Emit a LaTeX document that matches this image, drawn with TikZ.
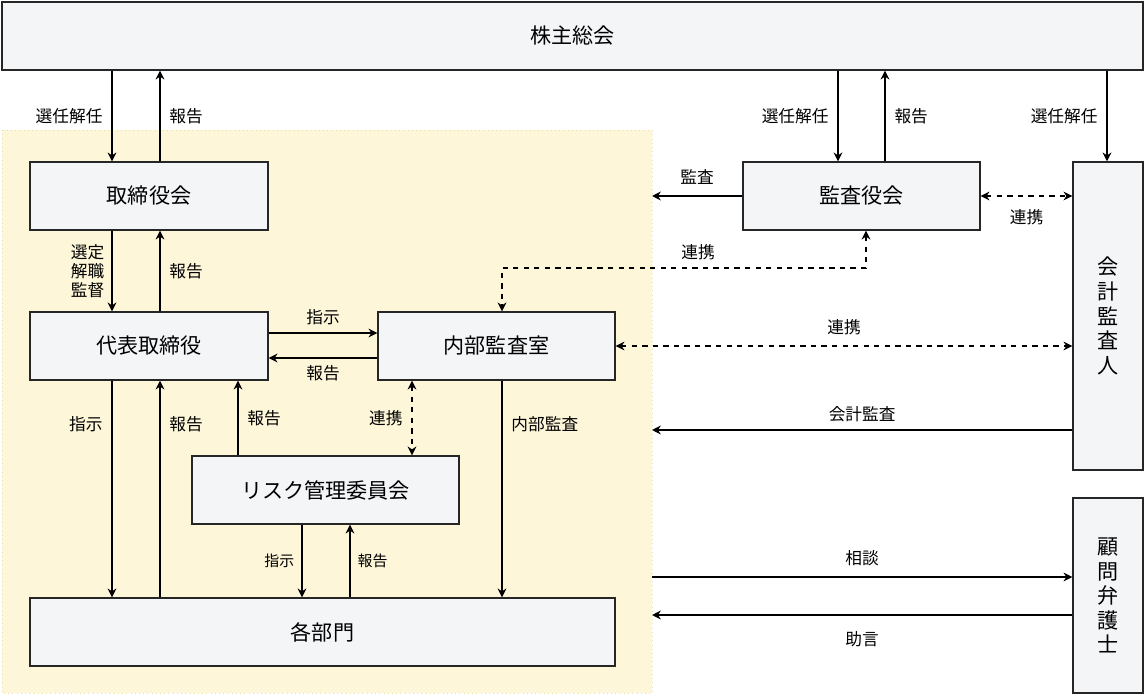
\documentclass[tikz,border=0pt]{standalone}
\usepackage{fontspec}
\setmainfont{Noto Sans CJK JP}
\usetikzlibrary{arrows.meta}
\definecolor{boxfill}{RGB}{244,245,247}
\definecolor{bgyellow}{RGB}{253,246,216}
\definecolor{bgline}{RGB}{236,222,170}
\tikzset{
  box/.style={draw=black!85,fill=boxfill,line width=0.8pt,font=\fontsize{12}{14}\selectfont},
  lbl/.style={font=\fontsize{9.5}{11}\selectfont,inner sep=1pt},
  arr/.style={-{Stealth[length=5pt,width=5pt]},line width=0.8pt},
  dual/.style={{Stealth[length=5pt,width=5pt]}-{Stealth[length=5pt,width=5pt]},dashed,line width=0.8pt}
}
\begin{document}
\begin{tikzpicture}[x=0.02cm,y=-0.02cm]
  \useasboundingbox (0,0) rectangle (1145,695);
  % background
  \filldraw[fill=bgyellow,draw=bgline,dotted] (2,130) rectangle (652,693);

  % boxes
  \node[box,minimum width=1141*0.02cm,minimum height=68*0.02cm] (agm) at (572.5,36) {株主総会};
  \node[box,minimum width=238*0.02cm,minimum height=68*0.02cm] (board) at (149,196) {取締役会};
  \node[box,minimum width=237*0.02cm,minimum height=68*0.02cm] (audit) at (861.5,196) {監査役会};
  \node[box,minimum width=70*0.02cm,minimum height=308*0.02cm,align=center] (cpa) at (1108,316) {会\\計\\監\\査\\人};
  \node[box,minimum width=238*0.02cm,minimum height=68*0.02cm] (ceo) at (149,346) {代表取締役};
  \node[box,minimum width=237*0.02cm,minimum height=68*0.02cm] (ia) at (496.5,346) {内部監査室};
  \node[box,minimum width=267*0.02cm,minimum height=68*0.02cm] (risk) at (325.5,490) {リスク管理委員会};
  \node[box,minimum width=585*0.02cm,minimum height=68*0.02cm] (dept) at (322.5,632) {各部門};
  \node[box,minimum width=70*0.02cm,minimum height=195*0.02cm,align=center] (law) at (1108,595.5) {顧\\問\\弁\\護\\士};

  % free ends on the edge of the company area
  \coordinate (e1) at (652,196);
  \coordinate (e2) at (652,430);
  \coordinate (e3) at (652,577);
  \coordinate (e4) at (652,615);

  % shareholders
  \draw[arr] (agm.south -| 112,0) -- (board.north -| 112,0) node[lbl,midway,left=4pt] {選任解任};
  \draw[arr] (board.north -| 160,0) -- (agm.south -| 160,0) node[lbl,midway,right=4pt] {報告};
  \draw[arr] (agm.south -| 838,0) -- (audit.north -| 838,0) node[lbl,midway,left=4pt] {選任解任};
  \draw[arr] (audit.north -| 885,0) -- (agm.south -| 885,0) node[lbl,midway,right=4pt] {報告};
  \draw[arr] (agm.south -| 1107,0) -- (cpa.north -| 1107,0) node[lbl,midway,left=4pt] {選任解任};

  % audit board
  \draw[arr] (audit.west) -- (e1) node[lbl,midway,above=5pt] {監査};
  \draw[dual] (audit.east) -- (cpa.west |- audit.east) node[lbl,midway,below=6pt] {連携};
  \draw[dual] (audit.south -| 866,0) -- (866,268) -- (502,268) -- (ia.north -| 502,0);
  \node[lbl] at (698,252) {連携};

  % board and CEO
  \draw[arr] (board.south -| 112,0) -- (ceo.north -| 112,0) node[lbl,midway,left=3pt,align=center] {選定\\解職\\監督};
  \draw[arr] (ceo.north -| 160,0) -- (board.south -| 160,0) node[lbl,midway,right=4pt] {報告};
  \draw[arr] (ceo.east |- 0,333) -- (ia.west |- 0,333) node[lbl,midway,above=3pt] {指示};
  \draw[arr] (ia.west |- 0,358) -- (ceo.east |- 0,358) node[lbl,midway,below=3pt] {報告};
  \draw[dual] (ia.east) -- (cpa.west |- ia.east) node[lbl,midway,above=5pt] {連携};
  \draw[arr] (cpa.west |- e2) -- (e2) node[lbl,midway,above=3pt] {会計監査};

  % departments
  \draw[arr] (ceo.south -| 112,0) -- (dept.north -| 112,0) node[lbl,pos=0.2,left=4pt] {指示};
  \draw[arr] (dept.north -| 160,0) -- (ceo.south -| 160,0) node[lbl,pos=0.8,right=4pt] {報告};
  \draw[arr] (risk.north -| 238,0) -- (ceo.south -| 238,0) node[lbl,midway,right=4pt] {報告};
  \draw[dual] (ia.south -| 412,0) -- (risk.north -| 412,0) node[lbl,midway,left=4pt] {連携};
  \draw[arr] (ia.south -| 502,0) -- (dept.north -| 502,0) node[lbl,pos=0.2,right=4pt] {内部監査};
  \draw[arr] (risk.south -| 302,0) -- (dept.north -| 302,0) node[lbl,midway,left=3pt,font=\fontsize{8.5}{10}\selectfont] {指示};
  \draw[arr] (dept.north -| 350,0) -- (risk.south -| 350,0) node[lbl,midway,right=3pt,font=\fontsize{8.5}{10}\selectfont] {報告};

  % lawyer
  \draw[arr] (e3) -- (law.west |- e3) node[lbl,midway,above=5pt] {相談};
  \draw[arr] (law.west |- e4) -- (e4) node[lbl,midway,below=8pt] {助言};
\end{tikzpicture}
\end{document}
